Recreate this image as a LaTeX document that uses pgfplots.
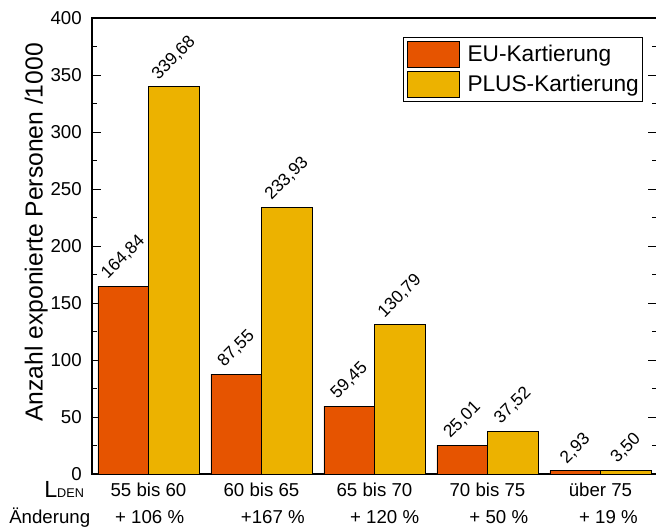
\documentclass[border=0pt]{standalone}
\usepackage{fontspec}
\setmainfont{Liberation Sans}
\usepackage{pgfplots}
\usepackage{pgfplotstable}
\pgfplotsset{compat=1.18}
\definecolor{euC}{RGB}{230,84,0}
\definecolor{plusC}{RGB}{236,178,0}

\pgfplotstableread{
x y lab
0 164.84 164,84
1 87.55 87,55
2 59.45 59,45
3 25.01 25,01
4 2.93 2,93
}\eudata
\pgfplotstableread{
x y lab
0 339.68 339,68
1 233.93 233,93
2 130.79 130,79
3 37.52 37,52
4 3.50 3,50
}\plusdata

\begin{document}
\begin{tikzpicture}
\begin{axis}[
  scale only axis,
  clip=false,
  width=423.75pt, height=342pt,
  xmin=-0.5, xmax=4.5,
  ymin=0, ymax=400,
  ybar=0pt,
  bar width=37.875pt,
  axis line style={line width=0.9pt},
  tick align=inside,
  ytick={0,50,...,400},
  minor y tick num=1,
  ytick pos=both,
  yticklabel pos=left,
  major tick length=6.75pt,
  minor tick length=3.4pt,
  tick style={line width=0.7pt, black},
  /pgf/number format/assume math mode=true,
  yticklabel style={font=\fontsize{14}{16}\selectfont, inner sep=0pt, xshift=-7.5pt},
  xtick={0,1,2,3,4},
  xticklabels={55 bis 60,60 bis 65,65 bis 70,70 bis 75,über 75},
  xtick style={draw=none},
  xticklabel style={font=\fontsize{14}{16}\selectfont, anchor=base, inner sep=0pt, yshift=-17.25pt},
  ylabel={Anzahl exponierte Personen /1000},
  ylabel style={font=\fontsize{18.5}{20}\selectfont, at={(ticklabel cs:0.53)}, inner sep=2pt},
  legend cell align=left,
  legend style={at={(1,1)}, anchor=north east, xshift=-10.5pt, yshift=-14.25pt,
    draw=black, line width=0.6pt, font=\fontsize{17}{18}\selectfont,
    inner xsep=2.8pt, inner ysep=2.5pt, row sep=2.8pt,
    nodes={inner sep=0pt, anchor=west}, /tikz/column sep=5.8pt},
  point meta=explicit symbolic,
  nodes near coords={\rotatebox{45}{\pgfplotspointmeta}},
  every node near coord/.append style={anchor=south, inner sep=0pt, yshift=3.5pt,
    font=\fontsize{13}{15}\selectfont, black},
]
\addplot[forget plot, fill=euC, draw=black, line width=0.6pt, bar shift=-18.94pt]
  table[x=x, y=y, meta=lab]{\eudata};
\addplot[forget plot, fill=plusC, draw=black, line width=0.6pt, bar shift=18.94pt]
  table[x=x, y=y, meta=lab]{\plusdata};
\addlegendimage{legend image code/.code={\draw[fill=euC, draw=black, line width=0.6pt] (0pt,-9.75pt) rectangle (39pt,9.75pt);}}
\addlegendentry{EU-Kartierung}
\addlegendimage{legend image code/.code={\draw[fill=plusC, draw=black, line width=0.6pt] (0pt,-9.75pt) rectangle (39pt,9.75pt);}}
\addlegendentry{PLUS-Kartierung}

\node[anchor=base, inner sep=0pt, font=\fontsize{14}{16}\selectfont] at ([yshift=-37.5pt]axis cs:0.01,0) {+ 106 \%};
\node[anchor=base, inner sep=0pt, font=\fontsize{14}{16}\selectfont] at ([yshift=-37.5pt]axis cs:1.10,0) {+167 \%};
\node[anchor=base, inner sep=0pt, font=\fontsize{14}{16}\selectfont] at ([yshift=-37.5pt]axis cs:2.09,0) {+ 120 \%};
\node[anchor=base, inner sep=0pt, font=\fontsize{14}{16}\selectfont] at ([yshift=-37.5pt]axis cs:3.10,0) {+ 50 \%};
\node[anchor=base, inner sep=0pt, font=\fontsize{14}{16}\selectfont] at ([yshift=-37.5pt]axis cs:4.07,0) {+ 19 \%};
\node[anchor=base west, inner sep=0pt, font=\fontsize{14}{16}\selectfont] at ([xshift=-62.25pt,yshift=-37.5pt]rel axis cs:0,0) {Änderung};
\node[anchor=base west, inner sep=0pt] at ([xshift=-36pt,yshift=-18pt]rel axis cs:0,0) {{\fontsize{17.5}{18}\selectfont L}{\fontsize{9.5}{10}\selectfont DEN}};
\end{axis}
\pgfresetboundingbox
\path ([shift={(-69pt,-42pt)}]current axis.south west) rectangle ([shift={(-0.75pt,13.5pt)}]current axis.north east);
\end{tikzpicture}
\end{document}
